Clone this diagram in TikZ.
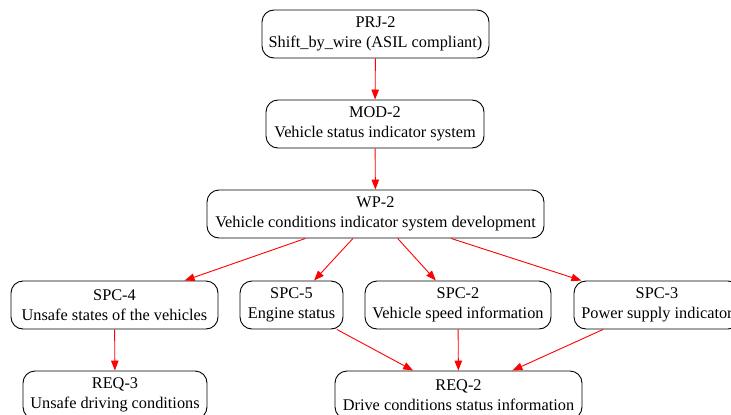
\documentclass[tikz,border=0pt]{standalone}
\usepackage{fontspec}
\setmainfont{Liberation Serif}
\usetikzlibrary{arrows.meta}
\begin{document}
\begin{tikzpicture}[x=1pt,y=-1pt,
  box/.style={draw=black,line width=0.9pt,rounded corners=12pt,align=center,
    minimum height=48pt,inner sep=1pt,font=\fontsize{16.3}{19.5}\selectfont,text=black},
  link/.style={draw=red,line width=0.9pt,-{Triangle[length=10pt,width=7.5pt]},red}]
\useasboundingbox (0,0) rectangle (731,415);
\node[box,minimum width=227pt] (prj) at (375.5,34) {PRJ-2\\Shift\_by\_wire (ASIL compliant)};
\node[box,minimum width=218pt] (mod) at (375,124) {MOD-2\\Vehicle status indicator system};
\node[box,minimum width=337pt] (wp) at (375.5,214) {WP-2\\Vehicle conditions indicator system development};
\node[box,minimum width=207pt] (s4) at (114.5,305) {SPC-4\\Unsafe states of the vehicles};
\node[box,minimum width=103pt] (s5) at (291.5,305) {SPC-5\\Engine status};
\node[box,minimum width=186pt] (s2) at (458,305) {SPC-2\\Vehicle speed information};
\node[box,minimum width=166pt] (s3) at (657,305) {SPC-3\\Power supply indicator};
\node[box,minimum width=184pt] (r3) at (115,395) {REQ-3\\Unsafe driving conditions};
\node[box,minimum width=247pt] (r2) at (458.5,395) {REQ-2\\Drive conditions status information};
\draw[link] (prj) -- (mod);
\draw[link] (mod) -- (wp);
\draw[link] (wp) -- (s4);
\draw[link] (wp) -- (s5);
\draw[link] (wp) -- (s2);
\draw[link] (wp) -- (s3);
\draw[link] (s4) -- (r3);
\draw[link] (s5) -- (r2);
\draw[link] (s2) -- (r2);
\draw[link] (s3) -- (r2);
\end{tikzpicture}
\end{document}
